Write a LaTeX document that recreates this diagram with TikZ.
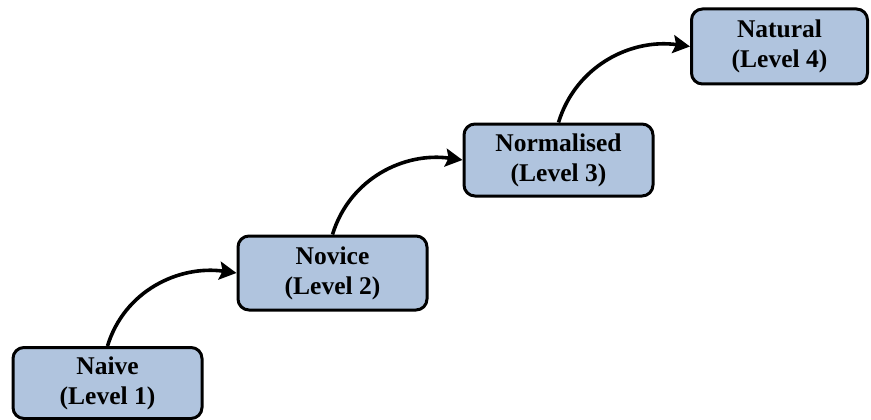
\documentclass[tikz,border=0pt]{standalone}
\usepackage{fontspec}
\setmainfont{Liberation Serif}
\usetikzlibrary{arrows.meta}
\definecolor{boxfill}{RGB}{176,196,222}
\tikzset{
  levelbox/.style={draw=black, line width=3pt, fill=boxfill, rounded corners=11pt,
    align=center, inner sep=0pt, font=\fontsize{25.5}{30}\selectfont\bfseries},
  stepline/.style={line width=3.6pt, -{Stealth[length=17pt,width=18pt,inset=3pt]}}
}
\begin{document}
\begin{tikzpicture}[x=1pt,y=-1pt]
  \useasboundingbox (0,0) rectangle (871,420);
  \node[levelbox, minimum width=189pt, minimum height=71pt] (naive) at (107.5,383) {Naive\\(Level 1)};
  \node[levelbox, minimum width=189pt, minimum height=74pt] (novice) at (332.5,273) {Novice\\(Level 2)};
  \node[levelbox, minimum width=189pt, minimum height=72pt] (normal) at (558.5,160) {Normalised\\(Level 3)};
  \node[levelbox, minimum width=176pt, minimum height=75pt] (natural) at (779.5,46.5) {Natural\\(Level 4)};
  \draw[stepline] (naive.north) to[out=73,in=172] (novice.west);
  \draw[stepline] (novice.north) to[out=73,in=172] (normal.west);
  \draw[stepline] (normal.north) to[out=73,in=172] (natural.west);
\end{tikzpicture}
\end{document}
